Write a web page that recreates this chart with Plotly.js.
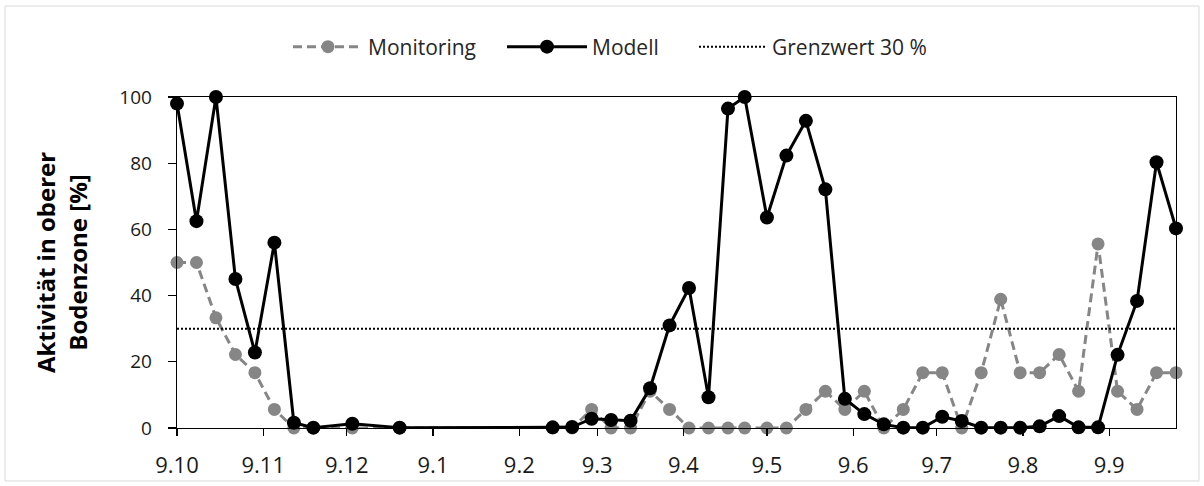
<!DOCTYPE html>
<html>
<head>
<meta charset="utf-8">
<script src="https://cdn.plot.ly/plotly-3.0.1.min.js"></script>
<style>
  html, body { margin: 0; padding: 0; background: #fff; }
  #chart { width: 1204px; height: 486px; }
</style>
</head>
<body>
<div id="chart"></div>
<script>
// Sampling dates (d.m axis, Oct 2018 – Oct 2019)
const dates = [
  '2018-10-09','2018-10-16','2018-10-23','2018-10-30','2018-11-06','2018-11-13',
  '2018-11-20','2018-11-27','2018-12-11','2018-12-28',
  '2019-02-21','2019-02-28','2019-03-07','2019-03-14','2019-03-21','2019-03-28',
  '2019-04-04','2019-04-11','2019-04-18','2019-04-25','2019-05-01','2019-05-09',
  '2019-05-16','2019-05-23','2019-05-30','2019-06-06','2019-06-13','2019-06-20',
  '2019-06-27','2019-07-04','2019-07-11','2019-07-18','2019-07-25','2019-08-01',
  '2019-08-08','2019-08-15','2019-08-22','2019-08-29','2019-09-05','2019-09-12',
  '2019-09-19','2019-09-26','2019-10-03'
];

// Activity in upper soil zone [%]
const monitoring = [
  50, 50, 33.3, 22.2, 16.7, 5.6, 0, 0, 0, 0,
  0, 0, 5.6, 0, 0, 11.1, 5.6, 0, 0, 0, 0, 0,
  0, 5.6, 11.1, 5.6, 11.1, 0, 5.6, 16.7, 16.7, 0,
  16.7, 38.9, 16.7, 16.7, 22.2, 11.1, 55.6, 11.1, 5.6, 16.7, 16.7
];

const modell = [
  98, 62.5, 100, 45, 22.8, 56, 1.6, 0.1, 1.3, 0.1,
  0.2, 0.3, 2.8, 2.4, 2.2, 12, 31, 42.3, 9.3, 96.5, 100, 63.6,
  82.3, 92.8, 72.1, 8.8, 4.2, 1.1, 0.1, 0.1, 3.4, 2.1, 0.1, 0.1,
  0.1, 0.5, 3.6, 0.2, 0.2, 22.1, 38.4, 80.3, 60.3
];

const grenzwert = 30;
const yTicks = [0, 20, 40, 60, 80, 100];
const seriesNames = ['Monitoring', 'Modell', 'Grenzwert 30 %'];

const FONT = 'Open Sans, sans-serif';

const traces = [
  {
    type: 'scatter', mode: 'lines+markers', name: seriesNames[0], legend: 'legend',
    x: dates, y: monitoring, cliponaxis: false,
    line: { color: '#868686', width: 3, dash: '9px,5px' },
    marker: { color: '#868686', size: 13 }
  },
  {
    type: 'scatter', mode: 'lines+markers', name: seriesNames[1], legend: 'legend2',
    x: dates, y: modell, cliponaxis: false,
    line: { color: '#000000', width: 3 },
    marker: { color: '#000000', size: 14 }
  },
  {
    type: 'scatter', mode: 'lines', name: seriesNames[2], legend: 'legend3',
    x: [dates[0], dates[dates.length - 1]], y: [grenzwert, grenzwert],
    line: { color: '#000000', width: 2, dash: '2px,2px' }
  }
];

function legendAt(px, w) {
  return {
    orientation: 'h', xref: 'container', yref: 'container',
    x: px / 1204, xanchor: 'left', y: 1 - 47 / 486, yanchor: 'middle',
    font: { family: FONT, size: 21, color: '#262626' },
    itemwidth: w, bgcolor: 'rgba(0,0,0,0)', borderwidth: 0
  };
}

const layout = {
  width: 1204, height: 486,
  margin: { l: 177, r: 28, t: 97, b: 58 },
  paper_bgcolor: '#ffffff', plot_bgcolor: '#ffffff',
  font: { family: FONT, size: 20, color: '#1a1a1a' },
  showlegend: true,
  legend: legendAt(288, 70),
  legend2: legendAt(502, 80),
  legend3: legendAt(694, 68),
  xaxis: {
    type: 'date',
    range: [dates[0], dates[dates.length - 1]],
    tick0: '2018-10-09', dtick: 'M1', tickformat: '%-d.%-m',
    ticks: 'outside', ticklen: 7, tickwidth: 1.3, tickcolor: '#000',
    showline: true, linecolor: '#000', linewidth: 1.3, mirror: true,
    showgrid: false, zeroline: false,
    tickfont: { family: FONT, size: 22, color: '#1a1a1a' },
    ticklabelstandoff: 10
  },
  yaxis: {
    range: [0, 100], tickvals: yTicks,
    ticks: 'outside', ticklen: 8, tickwidth: 1.3, tickcolor: '#000',
    showline: true, linecolor: '#000', linewidth: 1.3, mirror: true,
    showgrid: false, zeroline: false,
    tickfont: { family: FONT, size: 19, color: '#1a1a1a' },
    ticklabelstandoff: 12,
    title: {
      text: '<b>Aktivität in oberer<br>Bodenzone [%]</b>',
      font: { family: FONT, size: 24, color: '#000' },
      standoff: 25
    }
  },
  shapes: [{
    type: 'rect', xref: 'paper', yref: 'paper', layer: 'below',
    x0: -0.1722, x1: 1.023, y0: -0.160, y1: 1.275,
    line: { color: '#d9d9d9', width: 1 }, fillcolor: 'rgba(0,0,0,0)'
  }]
};

Plotly.newPlot('chart', traces, layout, { displayModeBar: false, staticPlot: true });
</script>
</body>
</html>
